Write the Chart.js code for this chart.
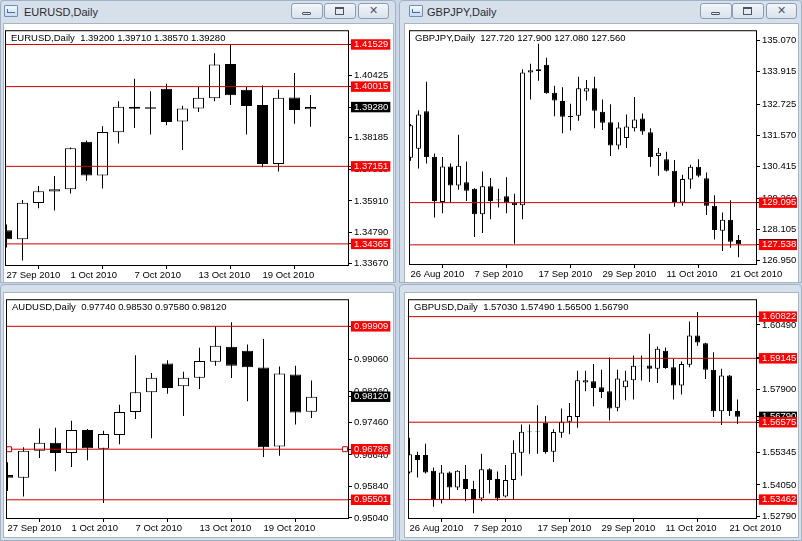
<!DOCTYPE html>
<html>
<head>
<meta charset="utf-8">
<script src="https://cdn.jsdelivr.net/npm/chart.js@4.4.0/dist/chart.umd.min.js"></script>
<style>
  body { margin: 0; width: 802px; height: 541px; position: relative; overflow: hidden;
         background: #c9d5e3; font-family: "Liberation Sans", Arial, sans-serif; }
  .win { position: absolute; box-sizing: border-box; background: #d6e0eb;
         border: 1px solid #9fb1c6; border-radius: 4px 4px 0 0; }
  .icon { position: absolute; width: 12px; height: 10px; border: 1px solid #6f8fb8;
          background: linear-gradient(#f4f8fc, #c9daf0); border-radius: 1px; }
  .icon::after { content: ""; position: absolute; left: 2px; top: 3px; width: 7px; height: 3px;
                 border-bottom: 1px solid #3a6fb5; border-left: 1px solid #3a6fb5; }
  .ttl { position: absolute; top: 4px; font-size: 11px; line-height: 14px; color: #2b2b2b; }
  .btn { position: absolute; top: 2px; height: 16px; box-sizing: border-box;
         border: 1px solid #8d9db4; border-radius: 3px;
         background: linear-gradient(#f3f6fa, #d9e2ec); }
  .btn.min::after { content: ""; position: absolute; left: 10px; top: 8px; width: 9px; height: 3px;
                    border: 1px solid #4a5566; border-radius: 1px; box-sizing: border-box; }
  .btn.max::after { content: ""; position: absolute; left: 10px; top: 3px; width: 9px; height: 8px;
                    border: 1px solid #4a5566; border-top-width: 2px; box-sizing: border-box; }
  .btn.cls { font-family: "DejaVu Sans", sans-serif; font-size: 11px; line-height: 14px;
             text-align: center; color: #4a5566; }
  .client { position: absolute; box-sizing: border-box; background: #fff;
            border: 1px solid #a7b4c4; }
  canvas { position: absolute; }
</style>
</head>
<body>

<div class="win" style="left:0;top:0;width:396px;height:283px">
  <div class="icon" style="left:3px;top:4px"></div>
  <div class="ttl" style="left:23px">EURUSD,Daily</div>
  <div class="btn min" style="left:290px;width:32px"></div>
  <div class="btn max" style="left:323px;width:32px"></div>
  <div class="btn cls" style="left:357px;width:31px">✕</div>
  <div class="client" style="left:2px;top:22px;width:391px;height:260px"></div>
</div>

<div class="win" style="left:399px;top:0;width:403px;height:283px">
  <div class="icon" style="left:9px;top:4px"></div>
  <div class="ttl" style="left:27px">GBPJPY,Daily</div>
  <div class="btn min" style="left:300px;width:32px"></div>
  <div class="btn max" style="left:332px;width:32px"></div>
  <div class="btn cls" style="left:366px;width:31px">✕</div>
  <div class="client" style="left:4px;top:22px;width:395px;height:260px"></div>
</div>

<div class="win" style="left:0;top:284px;width:396px;height:257px">
  <div class="client" style="left:2px;top:7px;width:391px;height:246px"></div>
</div>

<div class="win" style="left:399px;top:284px;width:403px;height:257px">
  <div class="client" style="left:4px;top:7px;width:395px;height:246px"></div>
</div>

<canvas id="eurusd"></canvas>
<canvas id="gbpjpy"></canvas>
<canvas id="audusd"></canvas>
<canvas id="gbpusd"></canvas>

<script>
// EURUSD, Daily
const eurDates = ['27 Sep 2010', '28 Sep 2010', '29 Sep 2010', '30 Sep 2010', '1 Oct 2010',
  '4 Oct 2010', '5 Oct 2010', '6 Oct 2010', '7 Oct 2010', '8 Oct 2010', '11 Oct 2010',
  '12 Oct 2010', '13 Oct 2010', '14 Oct 2010', '15 Oct 2010', '18 Oct 2010', '19 Oct 2010',
  '20 Oct 2010', '21 Oct 2010', '22 Oct 2010'];
const eurOpen  = [1.34859, 1.34531, 1.35837, 1.36246, 1.36331, 1.38035, 1.36825, 1.38378, 1.39288, 1.39271,
                  1.39941, 1.38766, 1.39225, 1.39599, 1.40823, 1.39906, 1.39352, 1.37234, 1.39623, 1.39200];
const eurHigh  = [1.35060, 1.35943, 1.36447, 1.36800, 1.37824, 1.38081, 1.38589, 1.39493, 1.40294, 1.39846,
                  1.40117, 1.39330, 1.40001, 1.41211, 1.41550, 1.40001, 1.40057, 1.39906, 1.40506, 1.39710];
const eurLow   = [1.34235, 1.33765, 1.35646, 1.35565, 1.36176, 1.36634, 1.36352, 1.37975, 1.38529, 1.38293,
                  1.38625, 1.37742, 1.39105, 1.39493, 1.39352, 1.38293, 1.37118, 1.36966, 1.38681, 1.38570];
const eurClose = [1.34531, 1.35847, 1.36260, 1.36331, 1.37799, 1.36825, 1.38388, 1.39295, 1.39217, 1.39218,
                  1.38741, 1.39225, 1.39613, 1.40813, 1.39705, 1.39316, 1.37234, 1.39613, 1.39175, 1.39280];
const eurTicks  = [1.33670, 1.34790, 1.35910, 1.37030, 1.38185, 1.40425];
const eurLevels = [1.41529, 1.40015, 1.37151, 1.34365];

// AUDUSD, Daily
const audDates = eurDates;
const audOpen  = [0.96128, 0.96060, 0.96748, 0.96948, 0.96687, 0.97275, 0.96798, 0.97149, 0.97734, 0.98236,
                  0.98963, 0.98386, 0.98604, 0.99006, 0.99389, 0.99289, 0.98863, 0.96856, 0.98687, 0.97740];
const audHigh  = [0.96454, 0.96838, 0.97315, 0.97332, 0.97508, 0.97300, 0.97257, 0.97917, 0.99171, 0.98720,
                  0.99046, 0.98755, 0.99365, 0.99909, 1.00010, 0.99447, 0.99590, 0.98888, 0.98905, 0.98530];
const audLow   = [0.95726, 0.95583, 0.96562, 0.96228, 0.96336, 0.96504, 0.95418, 0.96913, 0.97551, 0.97064,
                  0.98193, 0.97633, 0.98318, 0.98905, 0.98594, 0.98002, 0.96587, 0.96622, 0.97415, 0.97580];
const audClose = [0.96060, 0.96748, 0.96948, 0.96687, 0.97275, 0.96813, 0.97174, 0.97734, 0.98236, 0.98604,
                  0.98343, 0.98604, 0.99031, 0.99415, 0.98905, 0.98870, 0.96838, 0.98712, 0.97716, 0.98120];
const audTicks  = [0.95040, 0.95840, 0.96640, 0.97460, 0.98260, 0.99060];
const audLevels = [0.99909, 0.96786, 0.95501];

// GBPJPY, Daily
const gbpDates = ['26 Aug 2010', '27 Aug 2010', '30 Aug 2010', '31 Aug 2010', '1 Sep 2010', '2 Sep 2010',
  '3 Sep 2010', '6 Sep 2010', '7 Sep 2010', '8 Sep 2010', '9 Sep 2010', '10 Sep 2010', '13 Sep 2010',
  '14 Sep 2010', '15 Sep 2010', '16 Sep 2010', '17 Sep 2010', '20 Sep 2010', '21 Sep 2010', '22 Sep 2010',
  '23 Sep 2010', '24 Sep 2010', '27 Sep 2010', '28 Sep 2010', '29 Sep 2010', '30 Sep 2010', '1 Oct 2010',
  '4 Oct 2010', '5 Oct 2010', '6 Oct 2010', '7 Oct 2010', '8 Oct 2010', '11 Oct 2010', '12 Oct 2010',
  '13 Oct 2010', '14 Oct 2010', '15 Oct 2010', '18 Oct 2010', '19 Oct 2010', '20 Oct 2010', '21 Oct 2010',
  '22 Oct 2010'];
const gjOpen  = [130.751, 131.077, 132.464, 130.788, 129.122, 130.426, 129.727, 129.846, 129.604, 128.663,
                 129.702, 129.213, 129.329, 129.086, 129.003, 133.890, 134.009, 134.179, 133.141, 132.840,
                 132.290, 132.297, 133.188, 133.311, 132.442, 132.055, 131.197, 131.475, 131.837, 132.199,
                 131.693, 130.813, 130.690, 130.270, 129.097, 129.944, 130.415, 129.991, 128.977, 128.062,
                 128.460, 127.720];
const gjHigh  = [131.993, 132.500, 133.550, 130.907, 130.777, 130.534, 131.595, 130.607, 129.629, 130.245,
                 130.002, 129.604, 130.027, 129.423, 134.009, 134.216, 134.951, 134.433, 133.405, 133.347,
                 132.742, 133.731, 133.611, 133.731, 132.898, 132.717, 132.055, 132.344, 132.985, 132.380,
                 131.837, 131.113, 130.969, 130.668, 130.125, 130.487, 130.690, 130.208, 129.365, 128.735,
                 129.184, 127.900];
const gjLow   = [130.643, 130.353, 130.534, 128.543, 128.699, 129.086, 129.568, 129.158, 127.830, 127.975,
                 128.482, 128.916, 128.699, 127.577, 128.482, 132.898, 133.586, 133.104, 132.283, 131.656,
                 131.754, 132.116, 132.862, 131.837, 131.776, 130.813, 131.052, 131.113, 131.718, 131.595,
                 130.415, 130.089, 130.245, 128.941, 128.977, 129.604, 130.027, 128.641, 127.736, 127.312,
                 127.432, 127.080];
const gjClose = [131.946, 132.344, 130.777, 129.158, 130.426, 129.727, 130.451, 129.531, 128.663, 129.702,
                 129.158, 129.180, 129.086, 129.003, 133.890, 133.973, 133.948, 133.130, 132.862, 132.261,
                 132.254, 133.311, 133.311, 132.478, 132.044, 131.197, 131.863, 131.899, 132.163, 131.718,
                 130.777, 130.932, 130.270, 129.122, 129.966, 130.415, 130.089, 128.977, 128.083, 128.460,
                 127.649, 127.560];
const gjTicks  = [126.950, 128.105, 129.260, 130.415, 131.570, 132.725, 133.915, 135.070];
const gjLevels = [129.095, 127.538];

// GBPUSD, Daily
const guOpen  = [1.54551, 1.55259, 1.55259, 1.54619, 1.53446, 1.54551, 1.53951, 1.54287, 1.53887, 1.53511,
                 1.54687, 1.54287, 1.53591, 1.54247, 1.55351, 1.56205, 1.56200, 1.56552, 1.55391, 1.56152,
                 1.56592, 1.56780, 1.58168, 1.58221, 1.57981, 1.57821, 1.57152, 1.57981, 1.58261, 1.58849,
                 1.58861, 1.58729, 1.59450, 1.58781, 1.58049, 1.58889, 1.60062, 1.59754, 1.58689, 1.57020,
                 1.58450, 1.57030];
const guHigh  = [1.55952, 1.55391, 1.55712, 1.54751, 1.54859, 1.54591, 1.54646, 1.54859, 1.54219, 1.55311,
                 1.54727, 1.54591, 1.54859, 1.55848, 1.56488, 1.56488, 1.57260, 1.56820, 1.56288, 1.57128,
                 1.57352, 1.58649, 1.58649, 1.58913, 1.58689, 1.59181, 1.58689, 1.58649, 1.59261, 1.59261,
                 1.60130, 1.59622, 1.59582, 1.59129, 1.59021, 1.60622, 1.61010, 1.59770, 1.59393, 1.58729,
                 1.58470, 1.57490];
const guLow   = [1.54511, 1.54351, 1.54511, 1.53179, 1.53310, 1.53446, 1.53847, 1.53391, 1.52910, 1.53391,
                 1.53711, 1.53418, 1.53551, 1.53446, 1.54419, 1.55311, 1.55311, 1.55311, 1.54979, 1.55952,
                 1.56088, 1.56352, 1.57821, 1.57220, 1.57553, 1.56648, 1.57020, 1.57460, 1.57489, 1.58249,
                 1.58193, 1.58153, 1.58729, 1.57489, 1.57689, 1.58781, 1.59650, 1.58313, 1.56780, 1.56460,
                 1.56820, 1.56500];
const guClose = [1.55287, 1.55059, 1.54551, 1.53446, 1.54551, 1.53951, 1.54619, 1.53887, 1.53487, 1.54687,
                 1.54247, 1.53511, 1.54247, 1.55351, 1.56192, 1.56172, 1.56180, 1.55379, 1.56180, 1.56592,
                 1.56820, 1.58261, 1.58261, 1.57953, 1.57793, 1.57128, 1.58329, 1.58249, 1.58849, 1.58829,
                 1.58729, 1.59530, 1.58753, 1.58049, 1.58913, 1.60062, 1.59782, 1.58689, 1.57020, 1.58450,
                 1.57030, 1.56790];
const guTicks  = [1.52790, 1.54050, 1.55345, 1.56640, 1.57900, 1.59195, 1.60490];
const guLevels = [1.60822, 1.59145, 1.56575, 1.53462];

const AXIS_FONT = { family: 'Liberation Sans', size: 9.5, lineHeight: 1.1 };
const LINE_RED = '#cc0000';
const LABEL_RED = '#ff0000';

// plot frame + header line ("SYMBOL,Daily  O H L C")
function framePlugin(header) {
  return {
    id: 'mtFrame',
    afterDraw(chart) {
      const a = chart.chartArea, ctx = chart.ctx;
      ctx.save();
      ctx.strokeStyle = '#000';
      ctx.lineWidth = 1;
      ctx.strokeRect(a.left + 0.5, a.top + 0.5, a.right - a.left - 1, a.bottom - a.top - 1);
      ctx.fillStyle = '#000';
      ctx.font = AXIS_FONT.size + 'px ' + AXIS_FONT.family;
      ctx.textBaseline = 'middle';
      ctx.fillText(header, a.left + 6, a.top + 8.5);
      ctx.restore();
    }
  };
}

function candleChart(c) {
  const canvas = document.getElementById(c.id);
  const [cx, cy, cw, ch] = c.box;
  const [L, T, R, B] = c.area;
  canvas.width = cw;
  canvas.height = ch;
  canvas.style.left = cx + 'px';
  canvas.style.top = cy + 'px';

  const idx = c.open.map((_, i) => i);
  const n = idx.length;
  const last = c.close[n - 1];
  const fmt = v => v.toFixed(c.dec);
  const header = c.symbol + ',Daily  ' + [c.open[n - 1], c.high[n - 1], c.low[n - 1], last].map(fmt).join(' ');

  const datasets = c.levels.map(v => {
    const hasHandles = c.handles && c.handles.level === v;
    const xs = hasHandles ? [c.xMin, c.handles.x[0], c.handles.x[1], c.xMax] : [c.xMin, c.xMax];
    return {
      type: 'line',
      data: xs.map(x => ({ x: x, y: v })),
      borderColor: LINE_RED,
      borderWidth: 1,
      pointRadius: xs.map((_, k) => (hasHandles && k > 0 && k < 3) ? 3.5 : 0),
      pointStyle: 'rect',
      pointBackgroundColor: '#fff',
      pointBorderColor: LINE_RED,
      pointBorderWidth: 1,
      order: 0
    };
  });
  datasets.push({
    type: 'bar',
    data: idx.map(i => ({ x: i, y: [c.open[i], c.close[i]] })),
    backgroundColor: idx.map(i => c.close[i] >= c.open[i] ? '#fff' : '#000'),
    borderColor: '#000',
    borderWidth: 1,
    borderSkipped: false,
    barThickness: c.bodyW,
    grouped: false,
    inflateAmount: 0,
    order: 1
  });
  datasets.push({
    type: 'bar',
    data: idx.map(i => ({ x: i, y: [c.low[i], c.high[i]] })),
    backgroundColor: '#000',
    borderWidth: 0,
    barThickness: 1,
    grouped: false,
    inflateAmount: 0,
    order: 2
  });

  const yTicks = [...c.ticks, last, ...c.levels];
  const isLevel = v => c.levels.includes(v);

  return new Chart(canvas, {
    type: 'bar',
    data: { datasets: datasets },
    options: {
      responsive: false,
      animation: false,
      devicePixelRatio: 1,
      layout: { padding: { left: L - cx, top: T - cy, right: 0, bottom: 0 } },
      plugins: { legend: { display: false }, tooltip: { enabled: false } },
      scales: {
        x: {
          type: 'linear',
          min: c.xMin,
          max: c.xMax,
          offset: false,
          bounds: 'data',
          afterBuildTicks: s => { s.ticks = idx.filter(i => i % c.every === 0).map(i => ({ value: i })); },
          afterFit: s => { s.height = cy + ch - B; },
          grid: { drawOnChartArea: false, drawTicks: true, tickLength: 3, tickColor: '#000' },
          border: { display: false },
          ticks: {
            align: 'start', padding: 1, autoSkip: false, maxRotation: 0, color: '#000', font: AXIS_FONT,
            callback: v => c.dates[v]
          }
        },
        y: {
          type: 'linear',
          position: 'right',
          min: c.yMin,
          max: c.yMax,
          bounds: 'data',
          afterBuildTicks: s => { s.ticks = yTicks.map(v => ({ value: v })); },
          afterFit: s => { s.width = cx + cw - R; },
          grid: { drawOnChartArea: false, drawTicks: true, tickLength: 3, tickColor: '#000' },
          border: { display: false },
          ticks: {
            padding: 2, autoSkip: false, font: AXIS_FONT,
            callback: v => fmt(v),
            color: ctx => (ctx.tick && (isLevel(ctx.tick.value) || ctx.tick.value === last)) ? '#fff' : '#000',
            showLabelBackdrop: true,
            backdropPadding: { left: 3, right: 2, top: 0, bottom: 0 },
            backdropColor: ctx => {
              if (!ctx.tick) return 'rgba(0,0,0,0)';
              if (isLevel(ctx.tick.value)) return LABEL_RED;
              if (ctx.tick.value === last) return '#000';
              return 'rgba(0,0,0,0)';
            }
          }
        }
      }
    },
    plugins: [framePlugin(header)]
  });
}

candleChart({
  id: 'eurusd', symbol: 'EURUSD', dec: 5, every: 4, bodyW: 11,
  box: [3, 23, 389, 259], area: [5, 26, 349, 266],
  xMin: -0.09375, xMax: 21.40625, yMin: 1.33571, yMax: 1.420407,
  dates: eurDates, open: eurOpen, high: eurHigh, low: eurLow, close: eurClose,
  ticks: eurTicks, levels: eurLevels
});

candleChart({
  id: 'gbpjpy', symbol: 'GBPJPY', dec: 3, every: 8, bodyW: 5,
  box: [404, 23, 393, 259], area: [409, 26, 757, 265],
  xMin: -0.1875, xMax: 43.3125, yMin: 126.796, yMax: 135.45,
  dates: gbpDates, open: gjOpen, high: gjHigh, low: gjLow, close: gjClose,
  ticks: gjTicks, levels: gjLevels
});

candleChart({
  id: 'audusd', symbol: 'AUDUSD', dec: 5, every: 4, bodyW: 11,
  box: [3, 292, 389, 245], area: [6, 296, 349, 519],
  xMin: -0.09375, xMax: 21.34375, yMin: 0.950126, yMax: 1.005977,
  dates: audDates, open: audOpen, high: audHigh, low: audLow, close: audClose,
  ticks: audTicks, levels: audLevels,
  handles: { level: 0.96786, x: [0.1, 21.1] }
});

candleChart({
  id: 'gbpusd', symbol: 'GBPUSD', dec: 5, every: 8, bodyW: 5,
  box: [404, 292, 393, 245], area: [408, 298, 757, 519],
  xMin: -0.1875, xMax: 43.4375, yMin: 1.52682, yMax: 1.61522,
  dates: gbpDates, open: guOpen, high: guHigh, low: guLow, close: guClose,
  ticks: guTicks, levels: guLevels
});
</script>
</body>
</html>
